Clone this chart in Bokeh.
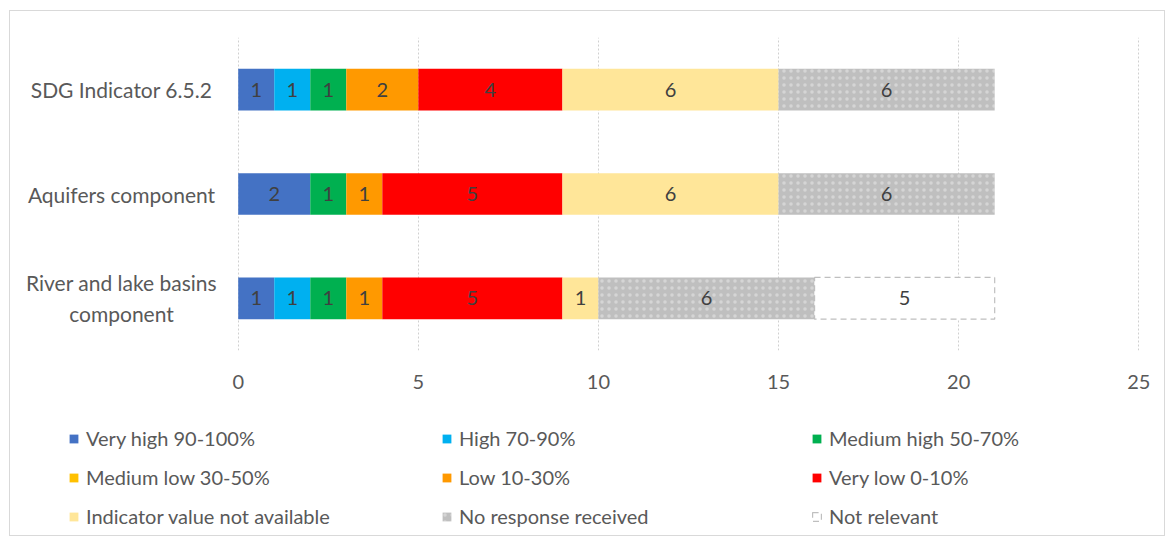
from bokeh.plotting import figure
from bokeh.layouts import column, row
from bokeh.models import FactorRange, Range1d, FixedTicker, Legend, LegendItem, ColumnDataSource
from bokeh.core.properties import value
from bokeh.embed import file_html
from bokeh.resources import INLINE

# Rows, top to bottom
categories = ["SDG Indicator 6.5.2", "Aquifers component", "River and lake basins component"]
category_labels = {"River and lake basins component": "River and lake basins\ncomponent"}

series = ["Very high 90-100%", "High 70-90%", "Medium high 50-70%",
          "Medium low 30-50%", "Low 10-30%", "Very low 0-10%",
          "Indicator value not available", "No response received", "Not relevant"]

very_high = [1, 2, 1]
high = [1, 0, 1]
medium_high = [1, 1, 1]
medium_low = [0, 0, 0]
low = [2, 1, 1]
very_low = [4, 5, 5]
not_available = [6, 6, 1]
no_response = [6, 6, 6]
not_relevant = [0, 0, 5]

values = [very_high, high, medium_high, medium_low, low, very_low,
          not_available, no_response, not_relevant]
colors = ["#4472C4", "#00B0F0", "#00B050", "#FFC000", "#FF9900", "#FF0000",
          "#FFE699", "#BFBFBF", "#FFFFFF"]

x_ticks = [0, 5, 10, 15, 20, 25]

FONT = "Lato"
GREY_TEXT = "#595959"

yr = FactorRange(factors=list(reversed(categories)), range_padding=0)

# Main bar panel (range ends nudged so the 0 and 25 gridlines stay inside the frame)
p = figure(width=937, height=400, output_backend="svg", toolbar_location=None,
           y_range=yr, x_range=Range1d(-0.02, 25.02), y_axis_location=None,
           min_border_left=10, min_border_right=25, min_border_top=26, min_border_bottom=61)
p.outline_line_color = None
p.frame_align = False

p.xaxis.ticker = FixedTicker(ticks=x_ticks)
p.xaxis.axis_line_color = None
p.xaxis.major_tick_line_color = None
p.xaxis.minor_tick_line_color = None
p.xaxis.major_label_text_color = GREY_TEXT
p.xaxis.major_label_text_font = FONT
p.xaxis.major_label_text_font_size = "20px"
p.xaxis.major_label_standoff = 18

p.xgrid.grid_line_color = "#D0D0D0"
p.xgrid.grid_line_dash = "2 2"
p.ygrid.grid_line_color = None


def style_bar(fig, name, col, **kw):
    kw.update(height=0.4, fill_color=col)
    if name == "Not relevant":
        return fig.hbar(line_color="#BFBFBF", line_dash="6 4", line_width=1.2, **kw)
    if name == "No response received":
        return fig.hbar(line_color=None, hatch_pattern=".", hatch_color="white",
                        hatch_alpha=0.35, hatch_scale=7, hatch_weight=1, **kw)
    return fig.hbar(line_color=None, **kw)


left = [0.0] * len(categories)
for name, vals, col in zip(series, values, colors):
    rows = [i for i, v in enumerate(vals) if v > 0]
    src = ColumnDataSource(dict(
        y=[categories[i] for i in rows],
        left=[left[i] for i in rows],
        right=[left[i] + vals[i] for i in rows],
        mid=[left[i] + vals[i] / 2 for i in rows],
        txt=[str(vals[i]) for i in rows],
    ))
    style_bar(p, name, col, y="y", left="left", right="right", source=src)
    p.text(x="mid", y="y", text="txt", source=src, text_align="center",
           text_baseline="middle", text_color="#404040",
           text_font=value(FONT), text_font_size="20px")
    for i in rows:
        left[i] += vals[i]

# Category names: a narrow panel sharing the bar panel's factor range,
# each name centred on one column (long names wrapped over two lines)
ylab = figure(width=217, height=400, output_backend="svg", toolbar_location=None,
              x_axis_type=None, y_axis_type=None, x_range=Range1d(0, 217), y_range=yr,
              min_border_left=0, min_border_right=0, min_border_top=26, min_border_bottom=61)
ylab.outline_line_color = None
ylab.grid.grid_line_color = None
ylab.frame_align = False
ylab.text(x=[111] * len(categories), y=categories,
          text=[category_labels.get(c, c) for c in categories],
          text_align="center", text_baseline="middle", text_color=GREY_TEXT,
          text_font=value(FONT), text_font_size="21px", text_line_height=1.25)

# Legend panel: three columns of swatches under the chart.
# Its swatch renderers hold one zero-width bar below the visible range.
lg = figure(width=1154, height=124, output_backend="svg", toolbar_location=None,
            x_axis_type=None, y_axis_type=None, x_range=Range1d(0, 1), y_range=Range1d(0, 1),
            min_border=0)
lg.outline_line_color = None
lg.grid.grid_line_color = None
lg.frame_align = False
swatches = [style_bar(lg, name, col, y=[-5], left=[0], right=[0])
            for name, col in zip(series, colors)]

col_x = [58, 431, 801]
for c in range(3):
    items = [LegendItem(label=series[k], renderers=[swatches[k]]) for k in range(c, 9, 3)]
    leg = Legend(items=items, location=(col_x[c], 6), orientation="vertical",
                 padding=0, margin=0, spacing=13, glyph_width=11, glyph_height=11,
                 label_height=26, label_standoff=7, border_line_color=None,
                 background_fill_alpha=0, label_text_font=FONT,
                 label_text_font_size="20px", label_text_color=GREY_TEXT)
    lg.add_layout(leg, "center")

layout = column(row(ylab, p, spacing=0), lg, spacing=0)
layout.styles = {"margin-left": "9px", "margin-top": "10px", "border": "1px solid #D9D9D9"}

open("out.html", "w").write(file_html(layout, INLINE))
